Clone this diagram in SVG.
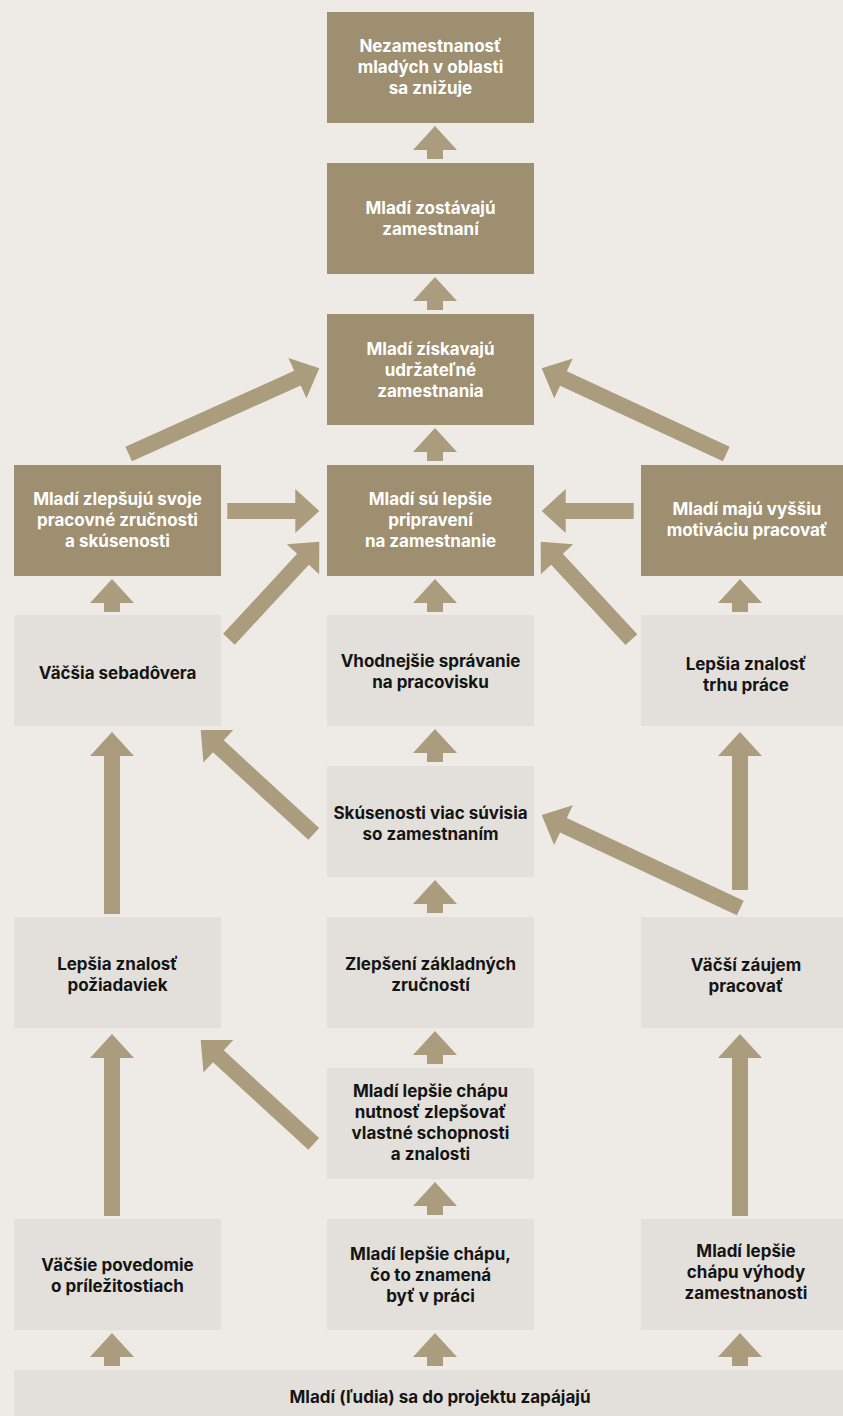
<svg xmlns="http://www.w3.org/2000/svg" width="843" height="1416" viewBox="0 0 843 1416">
<style>
.bg{fill:#EEEBE6}
.dk{fill:#9E8F71}
.lt{fill:#E3E0DB}
.ar{fill:#AA9C7D}
text{font-family:Inter,"Liberation Sans",sans-serif;font-weight:700;font-size:17px;text-anchor:middle}
.w{fill:#FFFFFF}
.b{fill:#141414}
</style>
<rect class="bg" x="0" y="0" width="843" height="1416"/>
<g id="n-top"><rect class="dk" x="327" y="12" width="207" height="111"/><text class="w" x="430.5" y="52">Nezamestnanosť</text><text class="w" x="430.5" y="73">mladých v oblasti</text><text class="w" x="430.5" y="94">sa znižuje</text></g>
<g id="n-zostavaju"><rect class="dk" x="327" y="163" width="207" height="111"/><text class="w" x="430.5" y="214">Mladí zostávajú</text><text class="w" x="430.5" y="235">zamestnaní</text></g>
<g id="n-ziskavaju"><rect class="dk" x="327" y="314" width="207" height="111"/><text class="w" x="430.5" y="355">Mladí získavajú</text><text class="w" x="430.5" y="376">udržateľné</text><text class="w" x="430.5" y="397">zamestnania</text></g>
<g id="n-zlepsuju"><rect class="dk" x="14" y="465" width="207" height="111"/><text class="w" x="117.5" y="505">Mladí zlepšujú svoje</text><text class="w" x="117.5" y="526">pracovné zručnosti</text><text class="w" x="117.5" y="547">a skúsenosti</text></g>
<g id="n-pripraveni"><rect class="dk" x="327" y="465" width="207" height="111"/><text class="w" x="430.5" y="505">Mladí sú lepšie</text><text class="w" x="430.5" y="526">pripravení</text><text class="w" x="430.5" y="547">na zamestnanie</text></g>
<g id="n-motivacia"><rect class="dk" x="641" y="465" width="207" height="111"/><text class="w" x="747" y="515">Mladí majú vyššiu</text><text class="w" x="747" y="536">motiváciu pracovať</text></g>
<g id="n-sebadovera"><rect class="lt" x="14" y="615" width="207" height="111"/><text class="b" x="117.5" y="679">Väčšia sebadôvera</text></g>
<g id="n-spravanie"><rect class="lt" x="327" y="615" width="207" height="111"/><text class="b" x="430.5" y="667">Vhodnejšie správanie</text><text class="b" x="430.5" y="688">na pracovisku</text></g>
<g id="n-trh"><rect class="lt" x="641" y="615" width="207" height="111"/><text class="b" x="746" y="670">Lepšia znalosť</text><text class="b" x="746" y="691">trhu práce</text></g>
<g id="n-skusenosti"><rect class="lt" x="327" y="766" width="207" height="111"/><text class="b" x="430.5" y="819">Skúsenosti viac súvisia</text><text class="b" x="430.5" y="840">so zamestnaním</text></g>
<g id="n-poziadavky"><rect class="lt" x="14" y="917" width="207" height="111"/><text class="b" x="117.5" y="970">Lepšia znalosť</text><text class="b" x="117.5" y="991">požiadaviek</text></g>
<g id="n-zakladne"><rect class="lt" x="327" y="917" width="207" height="111"/><text class="b" x="430.5" y="970">Zlepšení základných</text><text class="b" x="430.5" y="991">zručností</text></g>
<g id="n-zaujem"><rect class="lt" x="641" y="917" width="207" height="111"/><text class="b" x="746" y="971">Väčší záujem</text><text class="b" x="746" y="992">pracovať</text></g>
<g id="n-nutnost"><rect class="lt" x="327" y="1068" width="207" height="111"/><text class="b" x="430.5" y="1097">Mladí lepšie chápu</text><text class="b" x="430.5" y="1118">nutnosť zlepšovať</text><text class="b" x="430.5" y="1139">vlastné schopnosti</text><text class="b" x="430.5" y="1160">a znalosti</text></g>
<g id="n-povedomie"><rect class="lt" x="14" y="1219" width="207" height="111"/><text class="b" x="117.5" y="1271">Väčšie povedomie</text><text class="b" x="117.5" y="1292">o príležitostiach</text></g>
<g id="n-praca"><rect class="lt" x="327" y="1219" width="207" height="111"/><text class="b" x="430.5" y="1260">Mladí lepšie chápu,</text><text class="b" x="430.5" y="1281">čo to znamená</text><text class="b" x="430.5" y="1302">byť v práci</text></g>
<g id="n-vyhody"><rect class="lt" x="641" y="1219" width="207" height="111"/><text class="b" x="746" y="1257">Mladí lepšie</text><text class="b" x="746" y="1278">chápu výhody</text><text class="b" x="746" y="1299">zamestnanosti</text></g>
<g id="n-zapajaju"><rect class="lt" x="14" y="1370" width="860" height="60"/><text class="b" x="440" y="1403">Mladí (ľudia) sa do projektu zapájajú</text></g>
<g id="connectors" class="ar">
<polygon points="-33,-8 -24,-8 -24,-22 0,0 -24,22 -24,8 -33,8" transform="translate(435,126) rotate(-90)"/>
<polygon points="-33,-8 -24,-8 -24,-22 0,0 -24,22 -24,8 -33,8" transform="translate(435,277) rotate(-90)"/>
<polygon points="-33,-8 -24,-8 -24,-22 0,0 -24,22 -24,8 -33,8" transform="translate(435,428) rotate(-90)"/>
<polygon points="-33,-8 -24,-8 -24,-22 0,0 -24,22 -24,8 -33,8" transform="translate(435,579) rotate(-90)"/>
<polygon points="-33,-8 -24,-8 -24,-22 0,0 -24,22 -24,8 -33,8" transform="translate(435,729) rotate(-90)"/>
<polygon points="-33,-8 -24,-8 -24,-22 0,0 -24,22 -24,8 -33,8" transform="translate(435,880) rotate(-90)"/>
<polygon points="-33,-8 -24,-8 -24,-22 0,0 -24,22 -24,8 -33,8" transform="translate(435,1031) rotate(-90)"/>
<polygon points="-33,-8 -24,-8 -24,-22 0,0 -24,22 -24,8 -33,8" transform="translate(435,1182) rotate(-90)"/>
<polygon points="-33,-8 -24,-8 -24,-22 0,0 -24,22 -24,8 -33,8" transform="translate(435,1333) rotate(-90)"/>
<polygon points="-33,-8 -24,-8 -24,-22 0,0 -24,22 -24,8 -33,8" transform="translate(112,579) rotate(-90)"/>
<polygon points="-33,-8 -24,-8 -24,-22 0,0 -24,22 -24,8 -33,8" transform="translate(112,1333) rotate(-90)"/>
<polygon points="-33,-8 -24,-8 -24,-22 0,0 -24,22 -24,8 -33,8" transform="translate(740,579) rotate(-90)"/>
<polygon points="-33,-8 -24,-8 -24,-22 0,0 -24,22 -24,8 -33,8" transform="translate(740,1333) rotate(-90)"/>
<polygon points="-182,-8 -24,-8 -24,-22 0,0 -24,22 -24,8 -182,8" transform="translate(112,732) rotate(-90)"/>
<polygon points="-182,-8 -24,-8 -24,-22 0,0 -24,22 -24,8 -182,8" transform="translate(112,1034) rotate(-90)"/>
<polygon points="-158,-8 -24,-8 -24,-22 0,0 -24,22 -24,8 -158,8" transform="translate(740,732) rotate(-90)"/>
<polygon points="-182,-8 -24,-8 -24,-22 0,0 -24,22 -24,8 -182,8" transform="translate(740,1034) rotate(-90)"/>
<polygon points="-209,-8 -24,-8 -24,-22 0,0 -24,22 -24,8 -209,8" transform="translate(319.3,368.3) rotate(-24.2)"/>
<polygon points="-203.5,-8 -24,-8 -24,-22 0,0 -24,22 -24,8 -203.5,8" transform="translate(541.7,368.3) rotate(-155.1)"/>
<polygon points="-92,-8 -24,-8 -24,-22 0,0 -24,22 -24,8 -92,8" transform="translate(319.3,511)"/>
<polygon points="-92,-8 -24,-8 -24,-22 0,0 -24,22 -24,8 -92,8" transform="translate(541.7,511) rotate(180)"/>
<polygon points="-133,-8 -24,-8 -24,-22 0,0 -24,22 -24,8 -133,8" transform="translate(319.3,541.7) rotate(-47.2)"/>
<polygon points="-133.5,-8 -24,-8 -24,-22 0,0 -24,22 -24,8 -133.5,8" transform="translate(540.7,541.7) rotate(-132.8)"/>
<polygon points="-153.6,-8 -24,-8 -24,-22 0,0 -24,22 -24,8 -153.6,8" transform="translate(200.7,730) rotate(-137.4)"/>
<polygon points="-219.3,-8 -24,-8 -24,-22 0,0 -24,22 -24,8 -219.3,8" transform="translate(541.7,815) rotate(-154.9)"/>
<polygon points="-153.6,-8 -24,-8 -24,-22 0,0 -24,22 -24,8 -153.6,8" transform="translate(200.7,1040) rotate(-137.4)"/>
</g>
</svg>
